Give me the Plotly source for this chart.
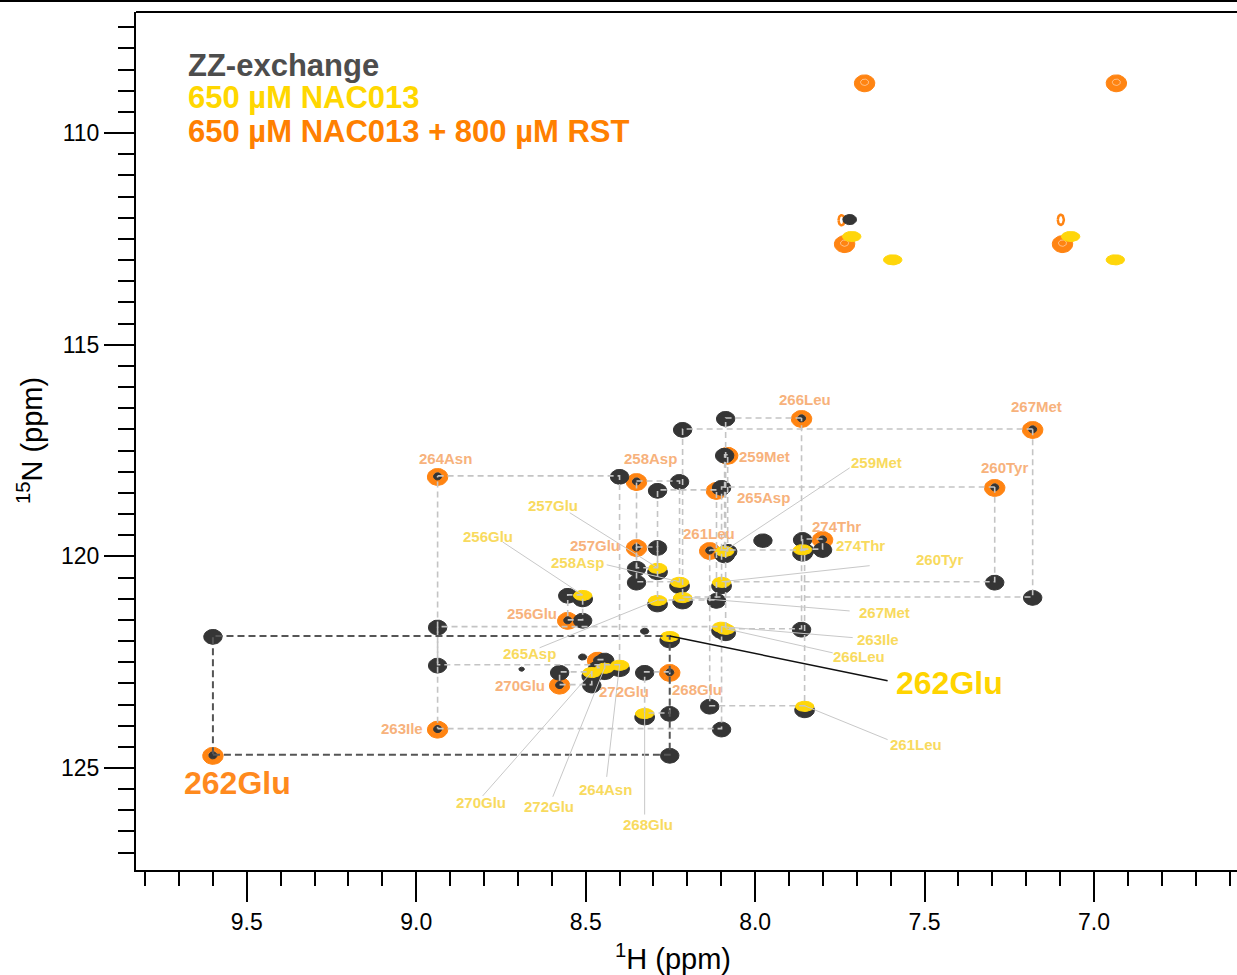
import numpy as np
import plotly.graph_objects as go

# ---------------- data ----------------
residues = ["256Glu", "257Glu", "258Asp", "259Met", "260Tyr", "261Leu", "262Glu", "263Ile",
            "264Asn", "265Asp", "266Leu", "267Met", "268Glu", "270Glu", "272Glu", "274Thr"]

# free state (650 uM NAC013): 1H / 15N shifts (ppm)
free_h = [8.509, 8.288, 8.223, 8.090, 8.099, 7.854, 8.252, 8.099,
          8.400, 8.288, 8.087, 8.214, 8.326, 8.482, 8.444, 7.860]
free_n = [120.91, 120.27, 120.60, 119.87, 120.60, 123.53, 121.88, 121.66,
          122.56, 121.03, 121.71, 120.96, 123.70, 122.73, 122.63, 119.83]

# bound state (650 uM NAC013 + 800 uM RST): 1H / 15N shifts (ppm)
bound_h = [8.553, 8.350, 8.350, 8.081, 7.293, 8.134, 9.600, 8.937,
           8.937, 8.114, 7.863, 7.181, 8.252, 8.577, 8.465, 7.801]
bound_n = [121.50, 119.78, 118.22, 117.60, 118.36, 119.85, 124.69, 124.07,
           118.10, 118.43, 116.73, 116.99, 122.73, 123.03, 122.44, 119.59]

# side-chain NH2 peaks
side_free_h = [7.715, 7.594, 7.069, 6.937]
side_free_n = [112.43, 112.98, 112.43, 112.98]
side_bound_h = [7.677, 6.934, 7.736, 7.093]
side_bound_n = [108.80, 108.80, 112.60, 112.60]
side_bound_ring_h = [7.745, 7.098]
side_bound_ring_n = [112.06, 112.05]

# additional ZZ-exchange peaks (shift, relative intensity)
extra_zz_h = [7.977, 8.326, 8.509, 8.689, 7.721]
extra_zz_n = [119.61, 121.76, 122.37, 122.66, 112.03]
extra_zz_amp = [1.0, 0.45, 0.45, 0.3, 0.75]

# ---------------- label placement (ppm) ----------------
bound_label_h = [8.659, 8.473, 8.308, 7.972, 7.264, 8.137, 9.527, 9.043,
                 8.913, 7.975, 7.854, 7.170, 8.173, 8.695, 8.388, 7.760]
bound_label_n = [121.36, 119.75, 117.70, 117.63, 117.91, 119.47, 125.35, 124.07,
                 117.70, 118.62, 116.30, 116.45, 123.15, 123.06, 123.20, 119.30]
free_label_h = [8.789, 8.597, 8.524, 7.642, 7.456, 7.524, 7.426, 7.636,
                8.441, 8.665, 7.692, 7.618, 8.317, 8.810, 8.609, 7.689]
free_label_n = [119.52, 118.81, 120.15, 117.79, 120.08, 124.45, 122.99, 121.97,
                125.51, 122.30, 122.37, 121.33, 126.34, 125.82, 125.91, 119.75]
# leader start points (None = no leader)
leader_h = [8.745, 8.547, 8.438, 7.721, 7.662, 7.609, 7.609, 7.712,
            8.438, 8.636, 7.771, 7.721, 8.326, 8.804, 8.597, None]
leader_n = [119.66, 118.97, 120.20, 117.91, 120.22, 124.33, 122.94, 121.92,
            125.21, 122.16, 122.28, 121.29, 126.10, 125.66, 125.68, None]

# ---------------- styling ----------------
ORANGE = "#FF8412"
YELLOW = "#FFD60A"
DARK = "#353535"
ORANGE_LBL = "#F7B27C"
YELLOW_LBL = "#F8DA5E"
FONT = "Liberation Sans, Arial, sans-serif"

X_RANGE = [9.827, 6.578]
Y_RANGE = [127.41, 107.14]

t = np.linspace(0, 2 * np.pi, 36)
# slightly pear-shaped contour: wider on the lower half, like a real cross-peak
shape_r = 1.0 + 0.12 * np.sin(t)


def blobs(hs, ns, rx, ry, amp=None, pear=True):
    xs, ys = [], []
    r = shape_r if pear else np.ones_like(t)
    for i, (h, n) in enumerate(zip(hs, ns)):
        s = 1.0 if amp is None else amp[i]
        xs += list(h + rx * s * r * np.cos(t)) + [None]
        ys += list(n + ry * s * r * np.sin(t)) + [None]
    return xs, ys


def blob_trace(hs, ns, rx, ry, color, amp=None):
    xs, ys = blobs(hs, ns, rx, ry, amp)
    return go.Scatter(x=xs, y=ys, mode="lines", fill="toself", fillcolor=color,
                      line=dict(color=color, width=1), hoverinfo="skip", showlegend=False)


def ring_trace(hs, ns, rx, ry, color, width):
    xs, ys = blobs(hs, ns, rx, ry, pear=False)
    return go.Scatter(x=xs, y=ys, mode="lines", line=dict(color=color, width=width),
                      hoverinfo="skip", showlegend=False)


fig = go.Figure()

# bound-state peaks (bottom layer)
fig.add_trace(blob_trace(bound_h + side_bound_h, bound_n + side_bound_n, 0.030, 0.20, ORANGE))
fig.add_trace(ring_trace(bound_h + side_bound_h, bound_n + side_bound_n, 0.012, 0.075,
                         "rgba(255,255,255,0.6)", 0.8))
fig.add_trace(ring_trace(side_bound_ring_h, side_bound_ring_n, 0.009, 0.12, ORANGE, 2.5))

# ZZ-exchange peaks: free auto peaks, exchange cross peaks, small bound auto peaks, extras
cross_h = free_h + bound_h
cross_n = bound_n + free_n
fig.add_trace(blob_trace(free_h, [n + 0.08 for n in free_n], 0.029, 0.18, DARK))
fig.add_trace(blob_trace(cross_h, cross_n, 0.027, 0.175, DARK))
fig.add_trace(blob_trace(bound_h, bound_n, 0.012, 0.085, DARK))
fig.add_trace(blob_trace(extra_zz_h, extra_zz_n, 0.027, 0.16, DARK, extra_zz_amp))

# free-state peaks (top layer)
fig.add_trace(blob_trace(free_h + side_free_h, free_n + side_free_n, 0.027, 0.12, YELLOW))

# exchange rectangles
rx, ry = [], []
for name, fh, fn, bh, bn in zip(residues, free_h, free_n, bound_h, bound_n):
    if name == "262Glu":
        continue
    rx += [bh, fh, fh, bh, bh, None]
    ry += [bn, bn, fn, fn, bn, None]
fig.add_trace(go.Scatter(x=rx, y=ry, mode="lines",
                         line=dict(color="#C4C4C4", width=1.6, dash="6px,4px"),
                         hoverinfo="skip", showlegend=False))
k = residues.index("262Glu")
fig.add_trace(go.Scatter(x=[bound_h[k], free_h[k], free_h[k], bound_h[k], bound_h[k]],
                         y=[bound_n[k], bound_n[k], free_n[k], free_n[k], bound_n[k]],
                         mode="lines", line=dict(color="#555555", width=2, dash="7px,4px"),
                         hoverinfo="skip", showlegend=False))

# leader lines for free-state labels
lx, ly = [], []
for name, sh, sn, fh, fn in zip(residues, leader_h, leader_n, free_h, free_n):
    if sh is None or name == "262Glu":
        continue
    lx += [sh, fh, None]
    ly += [sn, fn, None]
fig.add_trace(go.Scatter(x=lx, y=ly, mode="lines", line=dict(color="#C8C8C8", width=1),
                         hoverinfo="skip", showlegend=False))
fig.add_trace(go.Scatter(x=[leader_h[k], free_h[k]], y=[leader_n[k], free_n[k]], mode="lines",
                         line=dict(color="#111111", width=1.5), hoverinfo="skip", showlegend=False))

# residue labels
annotations = []
for name, h, n in zip(residues, bound_label_h, bound_label_n):
    big = name == "262Glu"
    annotations.append(dict(x=h, y=n, xref="x", yref="y", text=name, showarrow=False,
                            xanchor="center", yanchor="middle",
                            font=dict(family=FONT, size=32 if big else 15, weight="bold",
                                      color="#FF8A1E" if big else ORANGE_LBL)))
for name, h, n in zip(residues, free_label_h, free_label_n):
    big = name == "262Glu"
    annotations.append(dict(x=h, y=n, xref="x", yref="y", text=name, showarrow=False,
                            xanchor="center", yanchor="middle",
                            font=dict(family=FONT, size=32 if big else 15, weight="bold",
                                      color="#FFD400" if big else YELLOW_LBL)))

# legend text
legend_rows = [("ZZ-exchange", "#4D4D4D", 0.938),
               ("650 µM NAC013", "#FFD700", 0.900),
               ("650 µM NAC013 + 800 µM RST", "#FF8000", 0.861)]
for txt, col, yy in legend_rows:
    annotations.append(dict(x=0.0454, y=yy, xref="paper", yref="paper", text=txt, showarrow=False,
                            xanchor="left", yanchor="middle",
                            font=dict(family=FONT, size=31, weight="bold", color=col)))

# axis titles
annotations.append(dict(x=0.4877, y=-0.1014, xref="paper", yref="paper",
                        text="<sup>1</sup>H (ppm)", showarrow=False, xanchor="center", yanchor="middle",
                        font=dict(family=FONT, size=29, color="black")))
annotations.append(dict(x=-0.0963, y=0.501, xref="paper", yref="paper",
                        text="<sup>15</sup>N (ppm)", showarrow=False, textangle=-90,
                        xanchor="center", yanchor="middle",
                        font=dict(family=FONT, size=29, color="black")))

shapes = [
    dict(type="line", xref="paper", yref="paper", x0=0, x1=1, y0=1, y1=1,
         line=dict(color="black", width=2)),
    dict(type="line", xref="paper", yref="paper", x0=-0.13, x1=1, y0=1.0128, y1=1.0128,
         line=dict(color="black", width=2)),
]

fig.update_layout(
    width=1237, height=975,
    margin=dict(l=136, r=0, t=12, b=105),
    paper_bgcolor="white", plot_bgcolor="white",
    showlegend=False,
    annotations=annotations,
    shapes=shapes,
    xaxis=dict(range=X_RANGE, showgrid=False, zeroline=False, showline=True,
               linecolor="black", linewidth=2, ticks="outside", ticklen=30, tickwidth=1.5,
               tickcolor="black", tick0=7.0, dtick=0.5, tickformat=".1f",
               tickfont=dict(family=FONT, size=23, color="black"),
               minor=dict(dtick=0.1, ticks="outside", ticklen=14, tickwidth=1.5,
                          tickcolor="black", showgrid=False)),
    yaxis=dict(range=Y_RANGE, showgrid=False, zeroline=False, showline=True,
               linecolor="black", linewidth=2, ticks="outside", ticklen=30, tickwidth=1.5,
               tickcolor="black", tick0=110, dtick=5,
               tickfont=dict(family=FONT, size=23, color="black"),
               minor=dict(dtick=0.5, ticks="outside", ticklen=16, tickwidth=1.5,
                          tickcolor="black", showgrid=False)),
)

fig.write_html("out.html")
